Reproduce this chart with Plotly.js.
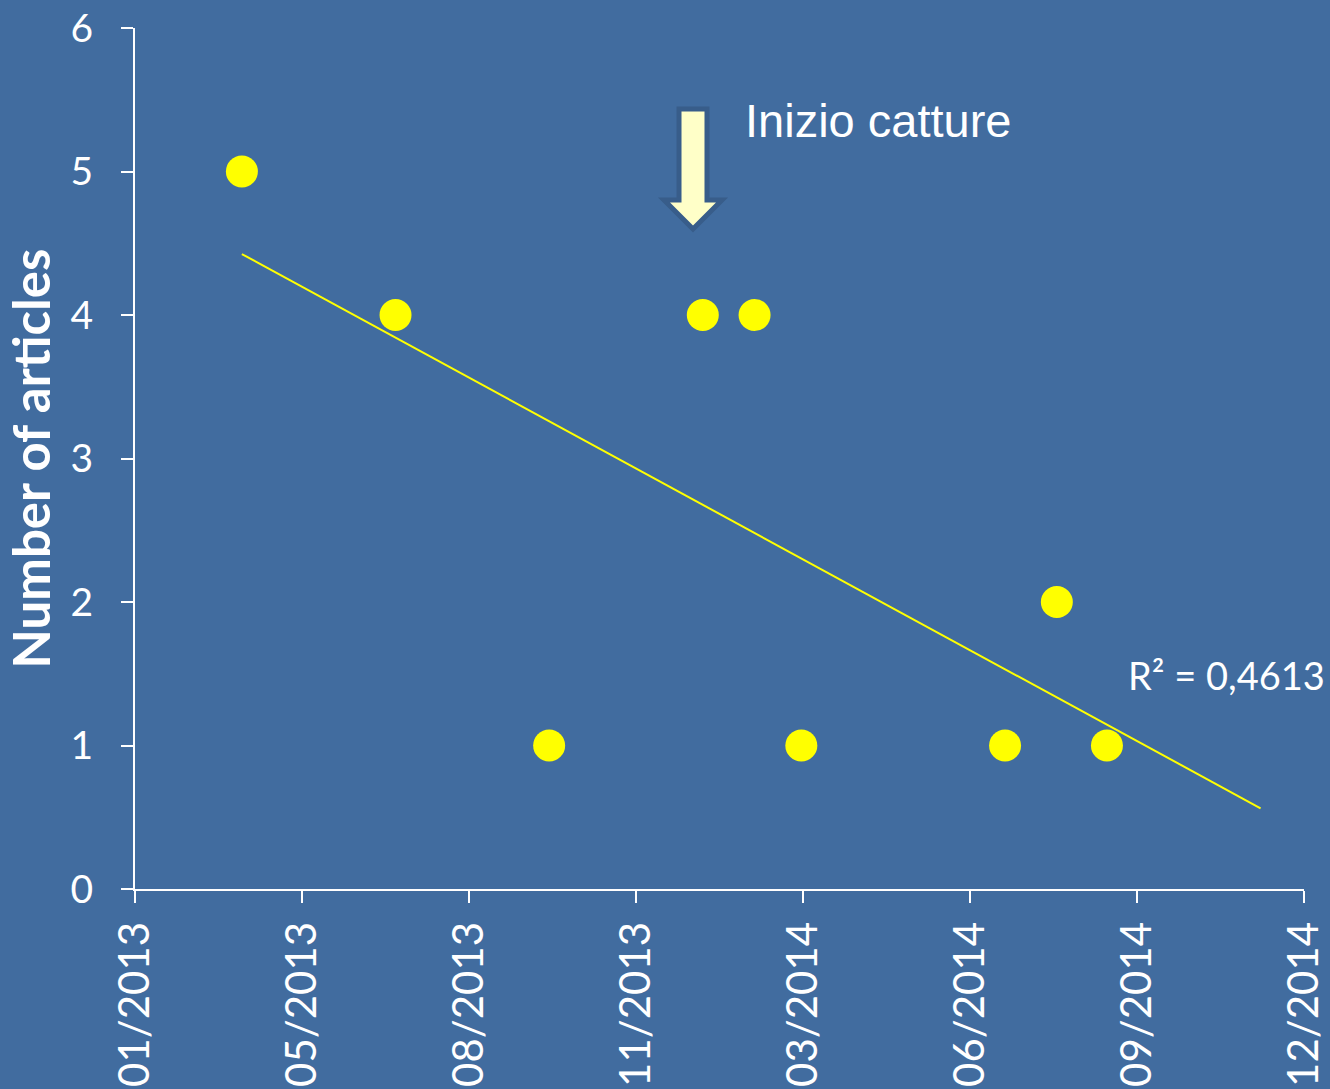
<!DOCTYPE html>
<html>
<head>
<meta charset="utf-8">
<script src="https://cdn.plot.ly/plotly-3.0.1.min.js"></script>
<style>html,body{margin:0;padding:0;background:#426D9F;}#chart{width:1330px;height:1089px;}</style>
</head>
<body>
<div id="chart"></div>
<script>
// Data
const dates = ['2013-04-02','2013-07-03','2013-10-03','2014-01-03','2014-02-03','2014-03-03','2014-07-03','2014-08-03','2014-09-02'];
const articles = [5, 4, 1, 4, 4, 1, 1, 2, 1];
const trendEndDate = '2014-12-03';
const r2Label = 'R² = 0,4613';
const noteLabel = 'Inizio catture';
const yTitle = 'Number of articles';
const axisStart = '2013-01-28';
const axisEnd = '2014-12-29';

// Linear trend (least squares on day numbers)
const DAY = 86400000;
const toDay = d => Date.parse(d) / DAY;
const xs = dates.map(toDay);
const n = xs.length;
const mx = xs.reduce((a, b) => a + b, 0) / n;
const my = articles.reduce((a, b) => a + b, 0) / n;
let sxy = 0, sxx = 0;
for (let i = 0; i < n; i++) { sxy += (xs[i] - mx) * (articles[i] - my); sxx += (xs[i] - mx) ** 2; }
const slope = sxy / sxx;
const fit = d => my + slope * (toDay(d) - mx);
const trendX = [dates[0], trendEndDate];
const trendY = trendX.map(fit);

// Layout geometry helpers (pixel -> paper)
const W = 1330, H = 1089, mL = 135, mR = 26, mT = 28, mB = 200;
const pw = W - mL - mR, ph = H - mT - mB;
const px = x => (x - mL) / pw;
const py = y => (H - mB - y) / ph;

const arrowPts = [[679,109],[707,109],[707,200],[722,200],[693,229],[664,200],[679,200]];
const arrowPath = 'M' + arrowPts.map(p => px(p[0]).toFixed(5) + ',' + py(p[1]).toFixed(5)).join(' L') + ' Z';

const traces = [
  {x: trendX, y: trendY, mode: 'lines', type: 'scatter', line: {color: '#FFFF00', width: 2}, hoverinfo: 'skip', showlegend: false},
  {x: dates, y: articles, mode: 'markers', type: 'scatter', marker: {color: '#FFFF00', size: 32}, showlegend: false}
];

const layout = {
  width: W, height: H,
  margin: {l: mL, r: mR, t: mT, b: mB},
  paper_bgcolor: '#416C9F', plot_bgcolor: '#416C9F',
  font: {family: 'Lato, sans-serif', color: '#FFFFFF'},
  showlegend: false,
  xaxis: {
    type: 'date', range: [axisStart, axisEnd], autorange: false,
    tick0: axisStart, dtick: 100 * DAY, tickformat: '%m/%Y',
    tickangle: -90, tickfont: {family: 'Lato, sans-serif', size: 42, color: '#FFFFFF'},
    ticks: 'outside', ticklen: 12, tickwidth: 2, tickcolor: '#FFFFFF',
    showline: true, linecolor: '#FFFFFF', linewidth: 2,
    showgrid: false, zeroline: false, ticklabelstandoff: 2
  },
  yaxis: {
    range: [0, 6], autorange: false, dtick: 1, tick0: 0,
    tickfont: {family: 'Lato, sans-serif', size: 39, color: '#FFFFFF'},
    ticks: 'outside', ticklen: 12, tickwidth: 2, tickcolor: '#FFFFFF',
    showline: true, linecolor: '#FFFFFF', linewidth: 2,
    showgrid: false, zeroline: false, ticklabelstandoff: 20,
    title: {text: yTitle, font: {family: 'Lato, sans-serif', size: 51, color: '#FFFFFF', weight: 'bold'}, standoff: 12}
  },
  shapes: [
    {type: 'path', xref: 'paper', yref: 'paper', path: arrowPath, fillcolor: '#FFFFC8', line: {color: '#385D8A', width: 5}, layer: 'above'}
  ],
  annotations: [
    {xref: 'paper', yref: 'paper', x: px(878), y: py(120), xanchor: 'center', yanchor: 'middle', showarrow: false,
     text: noteLabel, font: {family: 'Liberation Sans, Arial, sans-serif', size: 47, color: '#FFFFFF'}},
    {xref: 'paper', yref: 'paper', x: px(1126), y: py(675), xanchor: 'left', yanchor: 'middle', showarrow: false,
     text: r2Label, font: {family: 'Lato, sans-serif', size: 38, color: '#FFFFFF'}}
  ]
};

Plotly.newPlot('chart', traces, layout, {displayModeBar: false, staticPlot: true});
</script>
</body>
</html>
